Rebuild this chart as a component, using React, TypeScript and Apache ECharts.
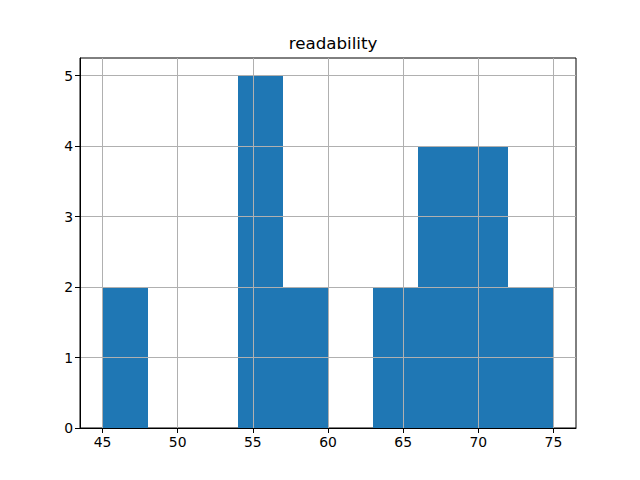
import React, { useEffect, useRef } from "react";
import * as echarts from "echarts";

const binStarts = [45, 48, 51, 54, 57, 60, 63, 66, 69, 72];
const binWidth = 3;
const counts = [2, 0, 0, 5, 2, 0, 2, 4, 4, 2];
const xTicks = [45, 50, 55, 60, 65, 70, 75];
const yTicks = [0, 1, 2, 3, 4, 5];
const title = "readability";

export default function App() {
  const ref = useRef<HTMLDivElement>(null);
  useEffect(() => {
    document.body.style.margin = "0";
    const chart = echarts.init(ref.current!, null, { renderer: "svg" });
    const font = "DejaVu Sans";
    const data = binStarts.map((s, i) => [s, s + binWidth, counts[i]]);
    chart.setOption({
      animation: false,
      backgroundColor: "#ffffff",
      title: {
        text: title,
        left: 328,
        top: 29,
        textAlign: "center",
        textStyle: { fontFamily: font, fontSize: 16.7, fontWeight: "normal", color: "#000" },
      },
      grid: {
        left: 80,
        right: 64,
        top: 58,
        bottom: 52,
        show: true,
        borderColor: "#000",
        borderWidth: 1,
        backgroundColor: "transparent",
      },
      xAxis: {
        type: "value",
        min: 43.5,
        max: 76.5,
        z: 5,
        axisLine: { show: true, onZero: false, lineStyle: { color: "#000", width: 1 } },
        axisTick: { show: true, length: 5, customValues: xTicks, lineStyle: { color: "#000" } },
        axisLabel: {
          customValues: xTicks,
          fontFamily: font,
          fontSize: 13.9,
          color: "#000",
          margin: 7,
        },
        splitLine: { show: true, lineStyle: { color: "#b0b0b0", width: 1 } },
      },
      yAxis: {
        type: "value",
        min: 0,
        max: 5.25,
        z: 5,
        axisLine: { show: true, lineStyle: { color: "#000", width: 1 } },
        axisTick: { show: true, length: 5, customValues: yTicks, lineStyle: { color: "#000" } },
        axisLabel: {
          customValues: yTicks,
          fontFamily: font,
          fontSize: 13.9,
          color: "#000",
          margin: 7,
        },
        splitLine: { show: true, lineStyle: { color: "#b0b0b0", width: 1 } },
      },
      series: [
        {
          type: "custom",
          z: 2,
          data,
          encode: { x: [0, 1], y: 2 },
          renderItem: (params: any, api: any) => {
            const x0 = api.value(0);
            const x1 = api.value(1);
            const c = api.value(2);
            const p0 = api.coord([x0, 0]);
            const p1 = api.coord([x1, c]);
            const left = Math.round(p0[0]);
            const right = Math.round(p1[0]);
            const top = Math.round(p1[1]);
            const bottom = Math.round(p0[1]);
            return {
              type: "rect",
              shape: { x: left, y: top, width: right - left, height: bottom - top },
              style: { fill: "#1f77b4" },
            };
          },
        },
      ],
    });
    return () => chart.dispose();
  }, []);
  return <div ref={ref} style={{ width: 640, height: 480, position: "fixed", left: 0, top: 0 }} />;
}
